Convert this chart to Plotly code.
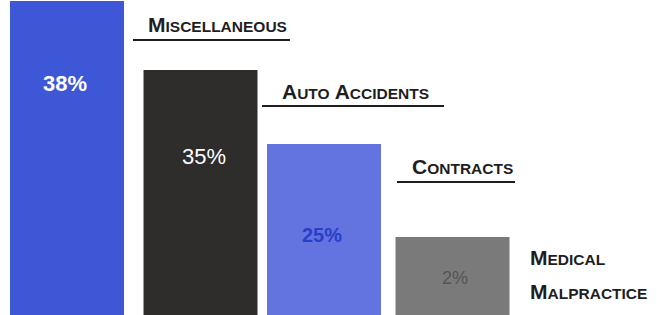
import plotly.graph_objects as go

# ---- data ----
categories = ["Miscellaneous", "Auto Accidents", "Contracts", "Medical Malpractice"]
percent_labels = ["38%", "35%", "25%", "2%"]
bar_heights = [314, 245, 171, 78]   # drawn bar heights (stylised, not to scale)
bar_colors = ["#3d57d6", "#2f2c2c", "#6373e0", "#7a7a7a"]

W, H = 657, 315

# layout: category spacing in px and per-bar nudges (px)
cx0, step = 67, 128.5
bar_w = 0.887
nudges_px = [0, 5, 0, 0]

fig = go.Figure(go.Bar(
    x=list(range(len(categories))),
    y=bar_heights,
    marker=dict(color=bar_colors, line=dict(width=0)),
    width=bar_w,
    offset=[-bar_w / 2 + n / step for n in nudges_px],
    hoverinfo="skip",
))

fig.update_xaxes(range=[-cx0 / step, (W - cx0) / step], visible=False, fixedrange=True)
fig.update_yaxes(range=[0, H], visible=False, fixedrange=True)

def px(x):
    return x / W

def py(y):
    return 1 - y / H

def smallcaps(word, big=21, small=15.5):
    return f"<span style='font-size:{big}px'>{word[0]}</span><span style='font-size:{small}px'>{word[1:].upper()}</span>"

ann = []
font = dict(family="Liberation Sans, Arial, sans-serif", color="#1e1e1e")

# category labels (left x, baseline y)
label_pos = [(148, 33), (282, 100), (412, 175)]
underlines = [(133, 290, 40), (262, 444, 106), (397, 515, 182)]
for i, (lx, ly) in enumerate(label_pos):
    words = categories[i].split(" ")
    txt = " ".join(smallcaps(w) for w in words)
    ann.append(dict(text=f"<b>{txt}</b>", x=px(lx), y=py(ly + 5), xref="paper", yref="paper",
                    xanchor="left", yanchor="bottom", showarrow=False, font=dict(size=21, **font),
                    xshift=-2))
shapes = [dict(type="line", xref="paper", yref="paper", x0=px(a), x1=px(b), y0=py(y), y1=py(y),
               line=dict(color="#1e1e1e", width=2)) for a, b, y in underlines]

w1, w2 = categories[3].split(" ")
for word, base in [(w1, 266), (w2, 300)]:
    ann.append(dict(text=f"<b>{smallcaps(word)}</b>", x=px(530), y=py(base + 5), xref="paper", yref="paper",
                    xanchor="left", yanchor="bottom", showarrow=False, font=dict(size=21, **font),
                    xshift=-2))

# percent labels
pct_style = [
    (64.5, 84, 22, "white", True),
    (204, 156, 22, "white", False),
    (322, 235, 20, "#2a3fc8", True),
    (455, 278, 18, "#555555", False),
]
for lab, (x, y, s, c, b) in zip(percent_labels, pct_style):
    ann.append(dict(text=f"<b>{lab}</b>" if b else lab, x=px(x), y=py(y), xref="paper", yref="paper",
                    xanchor="center", yanchor="middle", showarrow=False,
                    font=dict(family="Liberation Sans, Arial, sans-serif", size=s, color=c)))

fig.update_layout(
    width=W, height=H,
    margin=dict(l=0, r=0, t=0, b=0),
    paper_bgcolor="white", plot_bgcolor="white",
    showlegend=False,
    annotations=ann, shapes=shapes,
)

fig.write_html("out.html", config={"displayModeBar": False, "staticPlot": True},
               post_script="document.body.style.margin='0';document.body.style.overflow='hidden';")
